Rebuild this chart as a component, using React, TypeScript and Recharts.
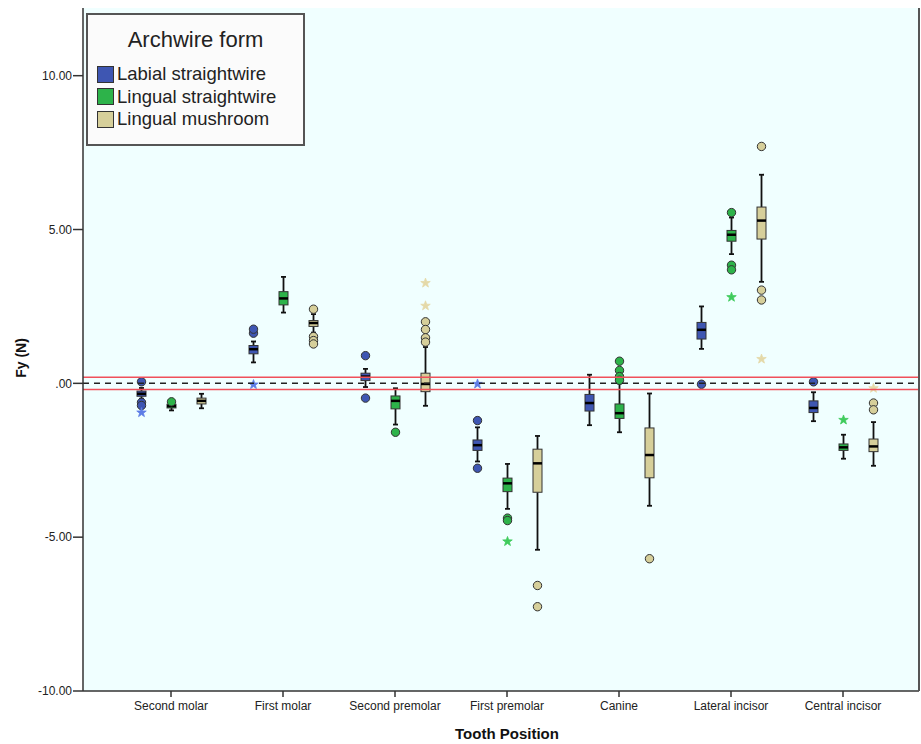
import React from 'react';
import { ComposedChart, Bar, XAxis, YAxis, ReferenceLine, CartesianGrid } from 'recharts';

const categories = [
  'Second molar', 'First molar', 'Second premolar', 'First premolar',
  'Canine', 'Lateral incisor', 'Central incisor',
];
const yTicks = [-10, -5, 0, 5, 10];

// Labial straightwire
const labialLow = [-0.5, 0.68, -0.12, -2.54, -1.36, 1.12, -1.23];
const labialQ1 = [-0.42, 0.96, 0.09, -2.18, -0.9, 1.44, -0.95];
const labialMedian = [-0.34, 1.11, 0.22, -2.01, -0.64, 1.74, -0.8];
const labialQ3 = [-0.25, 1.23, 0.33, -1.84, -0.36, 1.98, -0.57];
const labialHigh = [-0.15, 1.36, 0.47, -1.43, 0.28, 2.5, -0.29];
const labialOutliers = [[0.05, -0.62, -0.72], [1.63, 1.76], [0.9, -0.48], [-1.21, -2.76], [], [-0.03], [0.05]];
const labialExtremes = [[-0.95], [-0.04], [], [-0.02], [], [], []];

// Lingual straightwire
const straightLow = [-0.88, 2.3, -1.34, -4.08, -1.59, 4.2, -2.45];
const straightQ1 = [-0.8, 2.55, -0.83, -3.52, -1.14, 4.62, -2.18];
const straightMedian = [-0.74, 2.76, -0.57, -3.25, -0.97, 4.83, -2.08];
const straightQ3 = [-0.68, 2.98, -0.41, -3.08, -0.67, 4.97, -1.97];
const straightHigh = [-0.66, 3.46, -0.16, -2.62, 0.0, 5.39, -1.67];
const straightOutliers = [[-0.6], [], [-1.59], [-4.38, -4.46], [0.72, 0.42, 0.22, 0.1], [5.55, 3.84, 3.69], []];
const straightExtremes = [[], [], [], [-5.14], [], [2.8], [-1.19]];

// Lingual mushroom
const mushroomLow = [-0.81, 1.65, -0.73, -5.41, -3.98, 3.3, -2.68];
const mushroomQ1 = [-0.67, 1.85, -0.27, -3.54, -3.07, 4.69, -2.22];
const mushroomMedian = [-0.57, 1.96, -0.02, -2.6, -2.33, 5.29, -2.05];
const mushroomQ3 = [-0.48, 2.04, 0.33, -2.14, -1.45, 5.73, -1.81];
const mushroomHigh = [-0.34, 2.25, 1.18, -1.71, -0.33, 6.78, -1.26];
const mushroomOutliers = [[], [2.41, 1.52, 1.39, 1.28], [2.0, 1.75, 1.48, 1.34], [-6.57, -7.26], [-5.7], [7.7, 3.03, 2.71], [-0.64, -0.86]];
const mushroomExtremes = [[], [], [3.26, 2.52], [], [], [0.79], [-0.16]];

interface Stats {
  name: string;
  color: string;
  star: string;
  low: number[];
  q1: number[];
  median: number[];
  q3: number[];
  high: number[];
  outliers: number[][];
  extremes: number[][];
}

const labial: Stats = {
  name: 'Labial straightwire', color: '#3E56B2', star: '#5E7DE6',
  low: labialLow, q1: labialQ1, median: labialMedian, q3: labialQ3, high: labialHigh,
  outliers: labialOutliers, extremes: labialExtremes,
};
const straight: Stats = {
  name: 'Lingual straightwire', color: '#2DB34A', star: '#3FCB5C',
  low: straightLow, q1: straightQ1, median: straightMedian, q3: straightQ3, high: straightHigh,
  outliers: straightOutliers, extremes: straightExtremes,
};
const mushroom: Stats = {
  name: 'Lingual mushroom', color: '#D6CF9A', star: '#E4D9A8',
  low: mushroomLow, q1: mushroomQ1, median: mushroomMedian, q3: mushroomQ3, high: mushroomHigh,
  outliers: mushroomOutliers, extremes: mushroomExtremes,
};
const series = [labial, straight, mushroom];

const chartData = categories.map((name, i) => ({ name, i }));

const FONT = '"Liberation Sans", Arial, sans-serif';

const starPoints = (cx: number, cy: number, ro: number, ri: number) => {
  const pts: string[] = [];
  for (let k = 0; k < 10; k++) {
    const r = k % 2 === 0 ? ro : ri;
    const a = -Math.PI / 2 + (k * Math.PI) / 5;
    pts.push(`${cx + r * Math.cos(a)},${cy + r * Math.sin(a)}`);
  }
  return pts.join(' ');
};

// box shape: the bar spans q1..q3, everything else is placed with the same pixel scale
const makeShape = (s: Stats) => (props: any) => {
  const { x, y, width, height, payload } = props;
  const i = payload.i;
  const q1 = s.q1[i];
  const q3 = s.q3[i];
  const top = Math.min(y, y + height);
  const h = Math.abs(height);
  const k = h / (q3 - q1);
  const py = (v: number) => top + (q3 - v) * k;
  const cx = x + width / 2;
  const cap = 2.5;
  return (
    <g>
      <line x1={cx} x2={cx} y1={py(s.high[i])} y2={top} stroke="#111" strokeWidth={1.8} />
      <line x1={cx} x2={cx} y1={top + h} y2={py(s.low[i])} stroke="#111" strokeWidth={1.8} />
      <line x1={cx - cap} x2={cx + cap} y1={py(s.high[i])} y2={py(s.high[i])} stroke="#111" strokeWidth={1.8} />
      <line x1={cx - cap} x2={cx + cap} y1={py(s.low[i])} y2={py(s.low[i])} stroke="#111" strokeWidth={1.8} />
      <rect x={x} y={top} width={width} height={h} fill={s.color} stroke="#333" strokeWidth={1} />
      <line x1={x} x2={x + width} y1={py(s.median[i])} y2={py(s.median[i])} stroke="#000" strokeWidth={2.5} />
      {s.outliers[i].map((v, j) => (
        <circle key={`o${j}`} cx={cx} cy={py(v)} r={4.2} fill={s.color} stroke="#333" strokeWidth={1} />
      ))}
      {s.extremes[i].map((v, j) => (
        <polygon key={`e${j}`} points={starPoints(cx, py(v), 5, 2)} fill={s.star} stroke={s.star} strokeWidth={0.8} />
      ))}
    </g>
  );
};

const Legend = () => (
  <div
    style={{
      position: 'absolute', left: 86, top: 13, width: 215, height: 129,
      border: '2px solid #555', background: '#FBFBFB', fontFamily: FONT, color: '#222',
    }}
  >
    <div style={{ textAlign: 'center', fontSize: 22, marginTop: 13, lineHeight: '24px' }}>Archwire form</div>
    <div style={{ marginTop: 11 }}>
      {series.map((s) => (
        <div key={s.name} style={{ display: 'flex', alignItems: 'center', height: 22.5, paddingLeft: 9 }}>
          <div style={{ width: 15, height: 15, background: s.color, border: '1.5px solid #333', marginRight: 3 }} />
          <span style={{ fontSize: 18.5, lineHeight: '22px' }}>{s.name}</span>
        </div>
      ))}
    </div>
  </div>
);

const App = () => {
  return (
    <div style={{ position: 'absolute', left: 0, top: 0, width: 921, height: 744, background: '#fff', fontFamily: FONT }}>
      <ComposedChart
        width={921}
        height={744}
        data={chartData}
        margin={{ top: 8, right: 1, bottom: 0, left: 0 }}
        barGap={21}
      >
        <CartesianGrid fill="#F0FFFF" horizontal={false} vertical={false} />
        <XAxis
          dataKey="name"
          type="category"
          padding={{ left: 32, right: 20 }}
          height={53}
          tickSize={6}
          tickMargin={4}
          tick={{ fontSize: 12, fill: '#222', fontFamily: FONT }}
          axisLine={{ stroke: '#333', strokeWidth: 1.5 }}
          tickLine={{ stroke: '#333', strokeWidth: 1.5 }}
          label={{
            content: () => (
              <text x={507} y={733} textAnchor="middle" dominantBaseline="central" fontSize={15} fontWeight="bold" fill="#111" fontFamily={FONT}>
                Tooth Position
              </text>
            ),
          }}
        />
        <XAxis xAxisId="top" dataKey="name" orientation="top" height={0} tick={false} tickLine={false} axisLine={{ stroke: '#555', strokeWidth: 2 }} />
        <YAxis
          type="number"
          domain={[-10, 12.2]}
          ticks={yTicks}
          width={83}
          tickSize={10}
          tickMargin={1}
          tickFormatter={(v: number) => (v === 0 ? '.00' : v.toFixed(2))}
          tick={{ fontSize: 12, fill: '#222', fontFamily: FONT }}
          axisLine={{ stroke: '#333', strokeWidth: 1.5 }}
          tickLine={{ stroke: '#333', strokeWidth: 1.5 }}
          label={{
            content: () => (
              <text x={21} y={358} transform="rotate(-90 21 358)" textAnchor="middle" dominantBaseline="central" fontSize={14} fontWeight="bold" fill="#111" fontFamily={FONT}>
                Fy (N)
              </text>
            ),
          }}
        />
        <YAxis yAxisId="r" orientation="right" width={1} domain={[-10, 12.2]} tick={false} tickLine={false} axisLine={{ stroke: '#555', strokeWidth: 2 }} />
        <ReferenceLine y={0.2} stroke="#F0505A" strokeWidth={1.6} />
        <ReferenceLine y={-0.2} stroke="#F0505A" strokeWidth={1.6} />
        <ReferenceLine y={0} stroke="#222" strokeWidth={1.5} strokeDasharray="6 5" />
        {series.map((s) => (
          <Bar
            key={s.name}
            dataKey={(r: any) => [s.q1[r.i], s.q3[r.i]]}
            barSize={9}
            shape={makeShape(s)}
            isAnimationActive={false}
          />
        ))}
      </ComposedChart>
      <Legend />
    </div>
  );
};

export default App;
